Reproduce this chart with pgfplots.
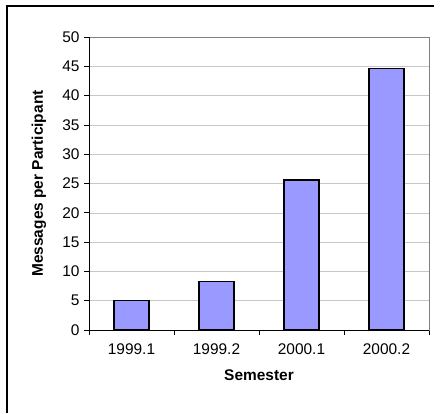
\documentclass[border=0pt]{standalone}
\usepackage{fontspec}
\setmainfont{Liberation Sans}
\usepackage{pgfplots}
\pgfplotsset{compat=1.18}
\definecolor{barfill}{RGB}{153,153,255}
\begin{document}
\begin{tikzpicture}[x=1bp,y=1bp]
\begin{axis}[
  at={(89bp,83bp)}, anchor=south west,
  scale only axis, width=340bp, height=293bp,
  xmin=0.5, xmax=4.5, ymin=0, ymax=50,
  ytick={0,5,...,50},
  xtick={1,2,3,4},
  xticklabels={1999.1,1999.2,2000.1,2000.2},
  minor xtick={0.5,1.5,2.5,3.5,4.5},
  major x tick style={draw=none},
  minor x tick style={black, line width=0.8bp},
  minor tick length=5bp,
  major tick length=5bp,
  y tick style={black, line width=0.8bp},
  tick align=outside, tick pos=left,
  ymajorgrids, grid style={gray!45, line width=0.6bp},
  axis line style={gray, line width=0.8bp},
  /pgf/number format/assume math mode=true,
  tick label style={font=\fontsize{15.5}{18}\selectfont},
  xticklabel style={yshift=-5bp},
  yticklabel style={xshift=-1bp},
  xlabel={\textbf{Semester}},
  ylabel={\textbf{Messages per Participant}},
  label style={font=\fontsize{15.5}{18}\selectfont},
  xlabel style={at={(axis description cs:0.5,-0.154)}, anchor=center},
  ylabel style={at={(axis description cs:-0.147,0.5)}, anchor=center},
  ybar, bar width=35bp,
]
\addplot[fill=barfill, draw=black, line width=1.3bp] coordinates {(1,5.0) (2,8.3) (3,25.6) (4,44.6)};
\draw[black, line width=1bp] (rel axis cs:0,0) -- (rel axis cs:0,1);
\draw[black, line width=1bp] (rel axis cs:0,0) -- (rel axis cs:1,0);
\end{axis}
\draw[black, line width=1.5bp] (7,0.5) -- (7,407) -- (434,407);
\path[use as bounding box] (0,0) rectangle (440,413);
\end{tikzpicture}
\end{document}
